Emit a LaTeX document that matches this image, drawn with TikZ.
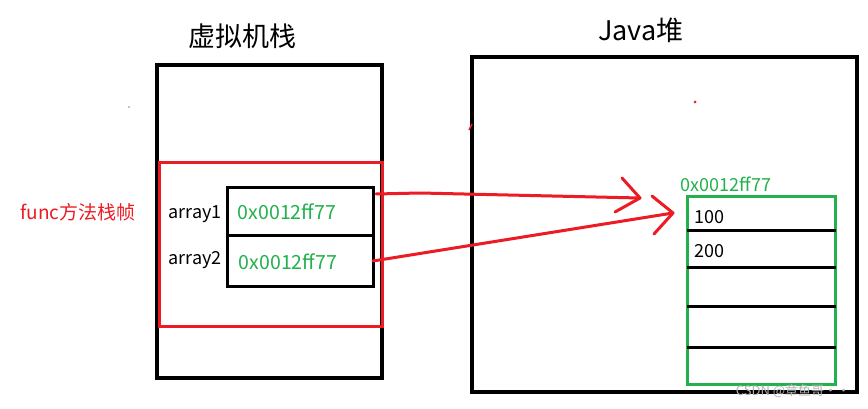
\documentclass[tikz,border=0pt]{standalone}
\usepackage{fontspec}
\setmainfont{Noto Sans CJK SC}
\definecolor{ared}{RGB}{237,28,36}
\definecolor{agreen}{RGB}{34,177,76}
\begin{document}
\begin{tikzpicture}[x=1pt,y=-1pt,
  blk/.style={draw=black,line width=4.5pt},
  redbox/.style={draw=ared,line width=3pt},
  cell/.style={draw=black,line width=3pt},
  grbox/.style={draw=agreen,line width=3pt},
  hline/.style={draw=black,line width=3pt},
  arr/.style={draw=ared,line width=3pt,line cap=round,line join=round},
  lbl/.style={inner sep=0pt,font=\fontsize{18}{21}\selectfont},
  gtxt/.style={inner sep=0pt,text=agreen,font=\fontsize{19.5}{23}\selectfont},
  title/.style={inner sep=0pt,font=\fontsize{27}{31}\selectfont}]
\useasboundingbox (0,0) rectangle (868,409);
\fill[white] (0,0) rectangle (868,409);
% titles
\node[title] (t1) at (242,36) {虚拟机栈};
\node[title] (t2) at (641,30) {Java堆};
% stack and heap
\draw[blk] (157,65) rectangle (382,378);
\draw[black,line width=4pt] (472,57) rectangle (857,392);
% red frame
\draw[redbox] (159,163) rectangle (382,326);
\node[lbl,text=ared,font=\fontsize{19}{22}\selectfont] (func) at (78,212) {func方法栈帧};
% cells
\draw[cell] (227,188) rectangle (373,286);
\draw[cell] (227,235) -- (373,235);
\coordinate (c1) at (376,194);
\coordinate (c2) at (373,261);
\node[lbl] (a1) at (195,214) {array1};
\node[lbl] (a2) at (195,260) {array2};
\node[gtxt] (v1) at (287,212) {0x0012ff77};
\node[gtxt] (v2) at (288,262) {0x0012ff77};
% heap object
\draw[grbox] (687,197) rectangle (835,384);
\foreach \y in {230,267,306,347} \draw[hline] (687,\y) -- (836,\y);
\node[lbl] (n100) at (709,217) {100};
\node[lbl] (n200) at (709,251) {200};
\node[gtxt,font=\fontsize{18}{21}\selectfont] (addr) at (726,184) {0x0012ff77};
% arrows
\coordinate (h1) at (640,198);
\coordinate (h2) at (673,213);
\draw[arr] (c1) -- (420,193) -- (h1);
\draw[arr] (622,178) -- (h1) -- (615,212);
\draw[arr] (c2) -- (h2);
\draw[arr] (652,196) -- (h2) -- (654,234);
% small marks
\draw[ared,line width=1.5pt] (469,130) -- (472,124);
\fill[ared] (695,102) circle (1.5);
\fill[black] (129,107) circle (0.7);
% watermark
\node[inner sep=0pt,text=black!30,font=\fontsize{13}{15}\selectfont] (wm) at (793,391) {CSDN @章鱼哥··};
\end{tikzpicture}
\end{document}
